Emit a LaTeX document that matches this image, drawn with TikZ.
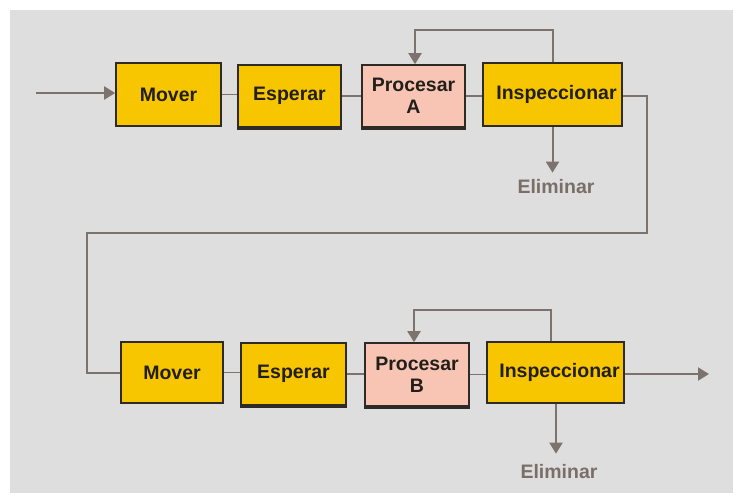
\documentclass[tikz,border=0pt]{standalone}
\usepackage{fontspec}
\setmainfont{Liberation Sans}
\usetikzlibrary{arrows.meta}
\definecolor{boxyellow}{HTML}{F7C600}
\definecolor{boxpink}{HTML}{F8C5B5}
\definecolor{flowline}{HTML}{7D736E}
\definecolor{bordercol}{HTML}{2E2A26}
\definecolor{textdark}{HTML}{221E1A}
\definecolor{scrapcol}{HTML}{7A6F68}
\definecolor{canvas}{HTML}{DEDEDE}
\tikzset{
  stagebox/.style={draw=bordercol, line width=1.6pt, fill=boxyellow,
    text=textdark, font=\fontsize{19.5}{22}\selectfont\bfseries,
    align=center, inner sep=0pt},
  procbox/.style={stagebox, fill=boxpink},
  flow/.style={draw=flowline, line width=2pt},
  link/.style={draw=flowline, line width=1.5pt},
  tip/.style={-{Triangle[width=13pt,length=11pt]}},
  scrap/.style={text=scrapcol, font=\fontsize{19.5}{22}\selectfont\bfseries,
    inner sep=0pt, anchor=base}
}
\begin{document}
\begin{tikzpicture}[x=1pt, y=-1pt]
  % page and grey canvas
  \useasboundingbox (0,0) rectangle (733,493);
  \fill[white] (0,0) rectangle (733,493);
  \fill[canvas] (10,10) rectangle (733,493);

  % first line of stages
  \node[stagebox, minimum width=105pt, minimum height=63pt] (m1) at (168.5,94.5) {Mover};
  \node[stagebox, minimum width=103pt, minimum height=62pt] (e1) at (289.5,96) {Esperar};
  \node[procbox,  minimum width=103pt, minimum height=62pt] (p1) at (413.5,96) {Procesar\\A};
  \node[stagebox, minimum width=139pt, minimum height=63pt] (i1) at (552.5,94.5) {\hspace*{8pt}Inspeccionar};
  \node[scrap] (x1) at (556,193) {Eliminar};

  % second line of stages
  \node[stagebox, minimum width=102pt, minimum height=61pt] (m2) at (172,372.5) {Mover};
  \node[stagebox, minimum width=105pt, minimum height=62pt] (e2) at (293.5,374) {Esperar};
  \node[procbox,  minimum width=104pt, minimum height=63pt] (p2) at (417,374.5) {Procesar\\B};
  \node[stagebox, minimum width=137pt, minimum height=61pt] (i2) at (555.5,372.5) {\hspace*{8pt}Inspeccionar};
  \node[scrap] (x2) at (559,478) {Eliminar};

  % darker lower edge under the waiting and processing boxes
  \foreach \b in {e1,p1,e2,p2}
    \draw[bordercol, line width=2.6pt] ([yshift=-0.6pt]\b.south west) -- ([yshift=-0.6pt]\b.south east);

  % free ends and bends of the main flow
  \coordinate (src) at (36,93);
  \coordinate (dst) at (709,374);
  \coordinate (bendR) at (647,233);
  \coordinate (bendL) at (87,233);

  % entry
  \draw[flow, tip] (src) -- (m1.west |- src);

  % links between neighbouring stages
  \draw[link] (m1.east) -- (m1.east -| e1.west);
  \draw[link] (e1.east) -- (e1.east -| p1.west);
  \draw[link] (p1.east) -- (p1.east -| i1.west);
  \draw[link] (m2.east) -- (m2.east -| e2.west);
  \draw[link] (e2.east) -- (e2.east -| p2.west);
  \draw[link] (p2.east) -- (p2.east -| i2.west);

  % transfer from the first line to the second
  \draw[flow] ([yshift=-1.5pt]i1.east) -| (bendR) -- (bendL) |- (m2.west);

  % rework loops
  \draw[flow, tip] (i1.north) -- ++(0,-32) -| ([xshift=1.5pt]p1.north);
  \draw[flow, tip] ([xshift=-4.5pt]i2.north) -- ++(0,-31) -| ([xshift=-3pt]p2.north);

  % rejected parts
  \draw[flow, tip] (i1.south) -- ([yshift=6pt]i1.south |- x1.north);
  \draw[flow, tip] ([xshift=0.5pt]i2.south) -- ([xshift=0.5pt,yshift=10pt]i2.south |- x2.north);

  % exit
  \draw[flow, tip] ([yshift=-1.5pt]i2.east) -- (dst);
\end{tikzpicture}
\end{document}
